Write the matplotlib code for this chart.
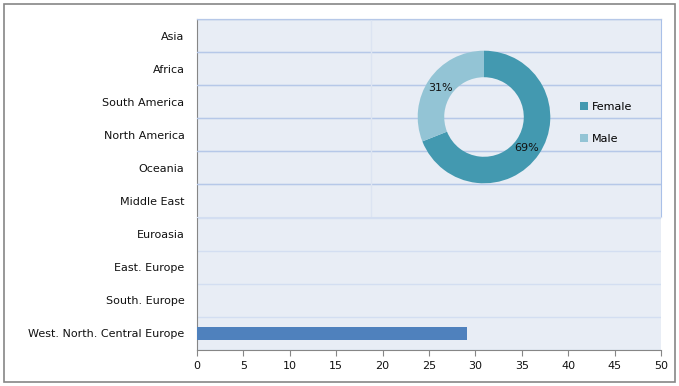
import numpy as np
import matplotlib
matplotlib.use("Agg")
import matplotlib.pyplot as plt
from matplotlib.patches import Rectangle

regions = ["Asia", "Africa", "South America", "North America", "Oceania",
           "Middle East", "Euroasia", "East. Europe", "South. Europe",
           "West. North. Central Europe"]
region_values = [0, 0, 0, 0, 0, 0, 0, 0, 0, 29.1]
x_ticks = [0, 5, 10, 15, 20, 25, 30, 35, 40, 45, 50]

gender_labels = ["Female", "Male"]
gender_share = [69, 31]

plt.rcParams['font.family'] = ['DejaVu Sans']
W, H = 679, 386
fig = plt.figure(figsize=(W / 100, H / 100), dpi=100)
fig.patch.set_facecolor("white")

# outer chart border
fig.add_artist(Rectangle((3.5 / W, 4.5 / H), 671 / W, 378 / H, transform=fig.transFigure,
                         fill=False, edgecolor="#868686", linewidth=1.2))

bg = "#E8EDF5"
grid_light = "#D3DEF1"
grid_dark = "#B6C8E8"
txt = "#111111"

# main bar chart
ax = fig.add_axes([197 / W, 36 / H, 464 / W, 331 / H])
ax.set_facecolor(bg)
ypos = np.arange(len(regions))
ax.barh(ypos, region_values, height=0.4, color="#4F81BD", zorder=3)
ax.set_xlim(0, 50)
ax.set_ylim(len(regions) - 0.5, -0.5)
ax.set_yticks(ypos)
ax.set_yticklabels(regions, fontsize=8, color=txt)
ax.set_xticks(x_ticks)
ax.set_xticklabels([str(t) for t in x_ticks], fontsize=8, color=txt)
ax.set_yticks(np.arange(len(regions) + 1) - 0.5, minor=True)
ax.grid(True, which="minor", axis="y", color=grid_light, linewidth=1, zorder=1)
ax.tick_params(axis="y", which="both", length=0, pad=9)
ax.tick_params(axis="x", length=4, color="#868686", pad=4)
ax.spines["right"].set_visible(False)
ax.spines["top"].set_color(grid_dark)
ax.spines["left"].set_color("#868686")
ax.spines["bottom"].set_color("#868686")

# overlay chart area holding the donut (transparent)
ax_in = fig.add_axes([197 / W, (H - 217) / H, 464 / W, 198 / H])
ax_in.patch.set_alpha(0)
ax_in.set_xlim(0, 50)
ax_in.set_ylim(5.5, -0.5)
ax_in.set_yticks(np.arange(0, 6) - 0.5)
ax_in.grid(True, axis="y", color=grid_dark, linewidth=1)
ax_in.axvline(18.75, color="#DCE4F2", linewidth=1)
ax_in.tick_params(left=False, bottom=False, labelleft=False, labelbottom=False)
ax_in.set_xticks([])
ax_in.spines["left"].set_visible(False)
ax_in.spines["bottom"].set_color(grid_light)
ax_in.spines["right"].set_color("#A9C0E8")
ax_in.spines["top"].set_color(grid_dark)

# donut
r = 66.3
ax_p = fig.add_axes([(484 - r) / W, (H - 117 - r) / H, 2 * r / W, 2 * r / H])
ax_p.patch.set_alpha(0)
wedges, _ = ax_p.pie(gender_share, colors=["#4399B0", "#93C4D5"], startangle=90,
                     counterclock=False, radius=1,
                     wedgeprops=dict(width=0.4, linewidth=0))
ax_p.set_xlim(-1, 1)
ax_p.set_ylim(-1, 1)
ax_p.text(0.64, -0.47, "69%", fontsize=8, ha="center", va="center", color=txt)
ax_p.text(-0.66, 0.44, "31%", fontsize=8, ha="center", va="center", color=txt)

leg = fig.legend(wedges, gender_labels, loc="upper left",
                 bbox_to_anchor=(580 / W, (H - 102) / H), frameon=False,
                 fontsize=8, handlelength=0.7, handleheight=0.7,
                 handletextpad=0.4, labelspacing=1.95, borderaxespad=0,
                 borderpad=0)

fig.savefig("out.png", dpi=100)
